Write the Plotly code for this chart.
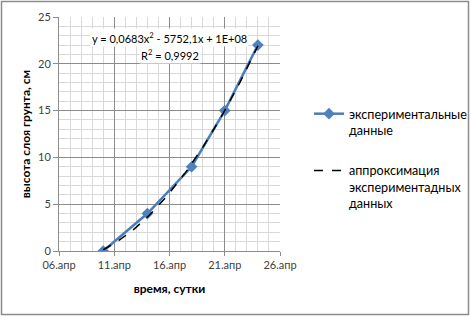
import numpy as np
import pandas as pd
import plotly.graph_objects as go

# ---- data ----
dates = ["2015-04-10", "2015-04-14", "2015-04-18", "2015-04-21", "2015-04-24"]
heights = [0, 4, 9, 15, 22]
tick_dates = ["2015-04-06", "2015-04-11", "2015-04-16", "2015-04-21", "2015-04-26"]
tick_labels = ["06.апр", "11.апр", "16.апр", "21.апр", "26.апр"]
series_names = ["экспериментальные<br>данные", "аппроксимация<br>экспериментадных<br>данных"]
equation_lines = ["y = 0,0683x<sup>2</sup> - 5752,1x + 1E+08", "R<sup>2</sup> = 0,9992"]

# polynomial (2nd order) trendline fitted to the data
d = pd.to_datetime(dates)
t = (d - d[0]).days.values.astype(float)
coef = np.polyfit(t, heights, 2)
tt = np.linspace(t.min(), t.max(), 60)
trend_dates = d[0] + pd.to_timedelta(tt, unit="D")
trend_vals = np.polyval(coef, tt)

FONT = "Lato, 'Open Sans', sans-serif"

fig = go.Figure()
fig.add_trace(go.Scatter(
    x=dates, y=heights, mode="lines+markers", name=series_names[0],
    line=dict(color="#4a7ebb", width=2.5),
    marker=dict(symbol="diamond", size=9, color="#4f81bd"),
    legendgroup="a",
))
fig.add_trace(go.Scatter(
    x=trend_dates, y=trend_vals, mode="lines", name=series_names[1],
    line=dict(color="#000000", width=1.5, dash="dash"),
    legendgroup="b",
))

for txt, ypos in zip(equation_lines, [0.912, 0.838]):
    fig.add_annotation(
        x=0.502, y=ypos, xref="paper", yref="paper", text=txt,
        xanchor="center", yanchor="middle",
        showarrow=False, font=dict(family=FONT, size=11, color="#000000"),
        align="center", bgcolor="white",
    )

# outer chart border
fig.add_shape(type="rect", xref="paper", yref="paper",
              x0=(1.5 - 59) / 221, x1=(468.5 - 59) / 221,
              y0=(251 - 314.5) / 234, y1=(251 - 1.5) / 234,
              line=dict(color="#8c8c8c", width=1.5), layer="below")

fig.update_layout(
    width=471, height=317,
    margin=dict(l=59, r=191, t=17, b=66),
    paper_bgcolor="white", plot_bgcolor="white",
    font=dict(family=FONT, size=11, color="#404040"),
    showlegend=True,
    legend=dict(xref="container", yref="container",
                x=309 / 471, y=1 - 99 / 317, xanchor="left", yanchor="top",
                font=dict(family=FONT, size=12.6, color="#000000"),
                valign="top", tracegroupgap=21, itemwidth=30,
                bgcolor="rgba(0,0,0,0)"),
    xaxis=dict(
        type="date", range=[tick_dates[0], tick_dates[-1]],
        tickmode="array", tickvals=tick_dates, ticktext=tick_labels,
        showgrid=True, gridcolor="#8c8c8c", gridwidth=1,
        showline=True, linecolor="#8c8c8c", linewidth=1,
        ticks="outside", ticklen=4, tickcolor="#8c8c8c",
        minor=dict(dtick=86400000, tick0=tick_dates[0], showgrid=True,
                   gridcolor="#d9d9d9", gridwidth=1, ticks=""),
        title=dict(text="<b>время, сутки</b>", font=dict(family=FONT, size=12, color="#000000"), standoff=14),
        zeroline=False, automargin=False,
    ),
    yaxis=dict(
        range=[0, 25], dtick=5, tick0=0,
        showgrid=True, gridcolor="#8c8c8c", gridwidth=1,
        showline=True, linecolor="#8c8c8c", linewidth=1,
        ticks="outside", ticklen=5, tickcolor="#8c8c8c",
        minor=dict(dtick=1, showgrid=True, gridcolor="#d9d9d9", gridwidth=1, ticks=""),
        title=dict(text="<b>высота слоя грунта, см</b>", font=dict(family=FONT, size=12, color="#000000"), standoff=4),
        zeroline=False, automargin=False,
    ),
)

fig.write_html("out.html", config={"displayModeBar": False},
               post_script="document.body.style.margin='0';document.body.style.overflow='hidden';")
